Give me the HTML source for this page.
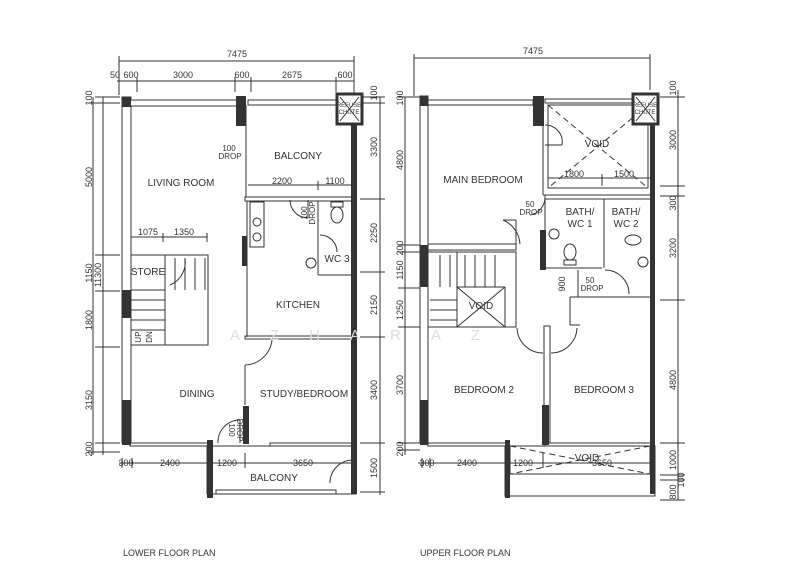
<!DOCTYPE html>
<html><head><meta charset="utf-8"><style>
html,body{margin:0;padding:0;background:#fff;width:800px;height:582px;overflow:hidden}
svg{display:block}
text{font-family:"Liberation Sans",sans-serif;fill:#333}
</style></head><body>
<svg width="800" height="582" viewBox="0 0 800 582" xmlns="http://www.w3.org/2000/svg">
<g stroke="#333" stroke-width="1" fill="none">
<line x1="119" y1="61" x2="354" y2="61"/>
<line x1="119" y1="56" x2="119" y2="95"/><line x1="354" y1="56" x2="354" y2="95"/>
<line x1="117" y1="81" x2="354" y2="81"/>
<line x1="137" y1="77" x2="137" y2="92"/><line x1="235" y1="77" x2="235" y2="92"/><line x1="251" y1="77" x2="251" y2="92"/><line x1="336" y1="77" x2="336" y2="92"/>
<line x1="93" y1="97" x2="93" y2="455"/>
<line x1="103" y1="97" x2="103" y2="455"/>
<line x1="95" y1="97" x2="120" y2="97"/><line x1="88" y1="103" x2="120" y2="103"/>
<line x1="95" y1="255" x2="120" y2="255"/><line x1="95" y1="291" x2="120" y2="291"/><line x1="95" y1="347" x2="120" y2="347"/><line x1="95" y1="443" x2="120" y2="443"/><line x1="88" y1="452" x2="120" y2="452"/>
<line x1="380" y1="97" x2="380" y2="495"/>
<line x1="360" y1="97" x2="385" y2="97"/><line x1="360" y1="103" x2="385" y2="103"/><line x1="360" y1="199" x2="385" y2="199"/><line x1="360" y1="272" x2="385" y2="272"/><line x1="360" y1="337" x2="385" y2="337"/><line x1="360" y1="443" x2="385" y2="443"/><line x1="360" y1="492" x2="385" y2="492"/>
<line x1="119" y1="463" x2="355" y2="463"/>
<line x1="122" y1="458" x2="122" y2="468"/><line x1="132" y1="458" x2="132" y2="468"/><line x1="208" y1="458" x2="208" y2="468"/><line x1="245" y1="453" x2="245" y2="468"/>
<line x1="130" y1="237" x2="207" y2="237"/><line x1="163" y1="233" x2="163" y2="242"/><line x1="207" y1="233" x2="207" y2="242"/>
<line x1="248" y1="185" x2="352" y2="185"/><line x1="318" y1="181" x2="318" y2="190"/>
<rect x="122" y="97" width="9" height="346" fill="#fff"/>
<rect x="130" y="100" width="108" height="6" fill="#fff"/>
<rect x="248" y="100" width="88" height="5" fill="#fff"/>
<rect x="130" y="443" width="80" height="3" fill="#fff"/>
<rect x="270" y="443" width="85" height="3" fill="#fff"/>
<rect x="245" y="197" width="108" height="4" fill="#fff"/>
<rect x="245" y="336" width="108" height="3" fill="#fff"/>
<line x1="246" y1="105" x2="246" y2="197"/><line x1="247" y1="201" x2="247" y2="337"/>
<line x1="245" y1="365" x2="245" y2="405"/>
<line x1="318" y1="201" x2="318" y2="275"/><line x1="318" y1="275" x2="353" y2="275"/>
<rect x="207" y="446" width="149" height="48"/>
<rect x="216" y="490" width="120" height="4"/>
<rect x="131" y="255" width="77" height="90"/>
<line x1="131" y1="290" x2="165" y2="290"/>
<line x1="165" y1="255" x2="165" y2="345"/>
<line x1="175" y1="258" x2="175" y2="290"/><line x1="185" y1="258" x2="185" y2="290"/><line x1="195" y1="258" x2="195" y2="290"/><line x1="205" y1="258" x2="205" y2="290"/>
<line x1="131" y1="300" x2="165" y2="300"/><line x1="131" y1="310" x2="165" y2="310"/><line x1="131" y1="320" x2="165" y2="320"/><line x1="131" y1="330" x2="165" y2="330"/>
<path d="M185 258 A25 25 0 0 1 170 285"/>
<path d="M245 365 A28 28 0 0 0 272 340"/>
<path d="M218 443 A22 22 0 0 1 240 420"/><line x1="240" y1="420" x2="240" y2="443"/>
<path d="M330 483 A23 23 0 0 1 353 460"/>
<path d="M290 200 A18 18 0 0 0 308 218"/><line x1="308" y1="200" x2="308" y2="218"/>
<path d="M320 235 A17 17 0 0 1 337 252"/>
<ellipse cx="337" cy="215" rx="6" ry="8"/><rect x="331" y="202" width="12" height="5"/>
<circle cx="311" cy="263" r="5"/>
<rect x="250" y="202" width="14" height="45"/><circle cx="257" cy="222" r="4"/><circle cx="257" cy="237" r="4"/>
<rect x="337" y="94" width="25" height="30" fill="#fff" stroke-width="3"/>
<line x1="340" y1="97" x2="359" y2="121"/><line x1="359" y1="97" x2="340" y2="121"/>
<line x1="414" y1="58" x2="650" y2="58"/>
<line x1="414" y1="54" x2="414" y2="96"/><line x1="650" y1="54" x2="650" y2="90"/>
<line x1="405" y1="97" x2="405" y2="455"/>
<line x1="398" y1="97" x2="420" y2="97"/><line x1="398" y1="245" x2="420" y2="245"/><line x1="398" y1="252" x2="420" y2="252"/><line x1="398" y1="288" x2="420" y2="288"/><line x1="398" y1="327" x2="420" y2="327"/><line x1="398" y1="443" x2="420" y2="443"/><line x1="398" y1="450" x2="420" y2="450"/>
<line x1="678" y1="90" x2="678" y2="500"/>
<line x1="660" y1="97" x2="685" y2="97"/><line x1="660" y1="186" x2="685" y2="186"/><line x1="660" y1="196" x2="685" y2="196"/><line x1="660" y1="300" x2="685" y2="300"/><line x1="660" y1="443" x2="685" y2="443"/><line x1="660" y1="475" x2="685" y2="475"/><line x1="660" y1="480" x2="685" y2="480"/><line x1="660" y1="500" x2="685" y2="500"/>
<line x1="418" y1="463" x2="655" y2="463"/>
<line x1="422" y1="458" x2="422" y2="468"/><line x1="430" y1="458" x2="430" y2="468"/><line x1="506" y1="458" x2="506" y2="468"/><line x1="543" y1="453" x2="543" y2="468"/>
<line x1="548" y1="178" x2="652" y2="178"/><line x1="602" y1="174" x2="602" y2="186"/>
<rect x="420" y="96" width="8" height="347" fill="#fff"/>
<rect x="428" y="100" width="105" height="5" fill="#fff"/>
<rect x="545" y="99" width="90" height="4" fill="#fff"/>
<rect x="428" y="443" width="80" height="3" fill="#fff"/>
<rect x="545" y="443" width="107" height="3" fill="#fff"/>
<rect x="428" y="244" width="88" height="6" fill="#fff"/>
<line x1="543" y1="125" x2="543" y2="195"/><line x1="543" y1="195" x2="652" y2="195"/>
<rect x="545" y="195" width="107" height="4" fill="#fff"/>
<line x1="545" y1="199" x2="545" y2="268"/><line x1="545" y1="268" x2="602" y2="268"/>
<line x1="604" y1="199" x2="604" y2="268"/>
<line x1="516" y1="220" x2="516" y2="244"/><line x1="503" y1="220" x2="516" y2="220"/>
<path d="M503 220 A28 28 0 0 1 520 244"/>
<line x1="570" y1="297" x2="652" y2="297"/><line x1="570" y1="297" x2="570" y2="325"/><line x1="570" y1="325" x2="580" y2="325"/>
<line x1="578" y1="270" x2="578" y2="297"/>
<path d="M605 270 A24 24 0 0 1 629 294"/>
<path d="M545 198 A18 18 0 0 1 530 215"/>
<path d="M545 125 A17 17 0 0 1 562 145"/><line x1="545" y1="145" x2="562" y2="145"/>
<rect x="544" y="326" width="6" height="117" fill="#fff"/>
<path d="M517 328 A26 26 0 0 0 543 353"/><path d="M577 328 A26 26 0 0 1 551 353"/>
<ellipse cx="570" cy="252" rx="6" ry="8"/><rect x="564" y="260" width="12" height="5"/>
<circle cx="554" cy="234" r="5"/>
<ellipse cx="633" cy="240" rx="8" ry="5"/><circle cx="643" cy="262" r="5"/>
<rect x="428" y="252" width="88" height="75"/>
<line x1="457" y1="287" x2="505" y2="287"/><line x1="457" y1="252" x2="457" y2="327"/><line x1="505" y1="287" x2="505" y2="327"/>
<line x1="440" y1="255" x2="440" y2="287"/><line x1="450" y1="255" x2="450" y2="287"/><line x1="465" y1="255" x2="465" y2="287"/><line x1="475" y1="255" x2="475" y2="287"/><line x1="485" y1="255" x2="485" y2="287"/><line x1="495" y1="255" x2="495" y2="287"/>
<line x1="430" y1="300" x2="457" y2="300"/><line x1="430" y1="310" x2="457" y2="310"/><line x1="430" y1="320" x2="457" y2="320"/>
<line x1="457" y1="287" x2="505" y2="327"/><line x1="505" y1="287" x2="457" y2="327"/>
<rect x="548" y="105" width="100" height="83"/>
<line x1="548" y1="105" x2="648" y2="188" stroke-dasharray="6 4"/><line x1="648" y1="105" x2="548" y2="188" stroke-dasharray="6 4"/>
<rect x="505" y="446" width="150" height="50"/>
<rect x="510" y="446" width="140" height="28"/>
<line x1="510" y1="446" x2="650" y2="474" stroke-dasharray="6 4"/><line x1="650" y1="446" x2="510" y2="474" stroke-dasharray="6 4"/>
<rect x="633" y="94" width="25" height="30" fill="#fff" stroke-width="3"/>
<line x1="636" y1="97" x2="655" y2="121"/><line x1="655" y1="97" x2="636" y2="121"/>
</g>
<g fill="#333">
<rect x="122" y="97" width="9" height="10"/><rect x="122" y="290" width="9" height="28"/><rect x="122" y="400" width="9" height="45"/>
<rect x="236" y="96" width="10" height="30"/><rect x="242" y="236" width="5" height="30"/>
<rect x="351" y="124" width="6" height="370"/>
<rect x="243" y="406" width="6" height="38"/><rect x="207" y="440" width="6" height="58"/>
<rect x="420" y="96" width="8" height="10"/><rect x="420" y="245" width="8" height="42"/><rect x="420" y="400" width="8" height="45"/>
<rect x="533" y="96" width="11" height="30"/><rect x="540" y="230" width="6" height="40"/>
<rect x="650" y="124" width="5" height="370"/>
<rect x="542" y="405" width="7" height="40"/><rect x="505" y="440" width="5" height="58"/>
</g>
<g font-size="9" text-anchor="middle">
<text x="237" y="57">7475</text>
<text x="115" y="78">50</text><text x="131" y="78">600</text><text x="183" y="78">3000</text><text x="242" y="78">600</text><text x="292" y="78">2675</text><text x="345" y="78">600</text>
<text x="148" y="235">1075</text><text x="184" y="235">1350</text>
<text x="282" y="184">2200</text><text x="335" y="184">1100</text>
<text x="126" y="466">300</text><text x="170" y="466">2400</text><text x="227" y="466">1200</text><text x="303" y="466">3650</text>
<text x="533" y="54">7475</text>
<text x="574" y="177">1800</text><text x="624" y="177">1500</text>
<text x="427" y="466">300</text><text x="467" y="466">2400</text><text x="523" y="466">1200</text><text x="602" y="466">3650</text>
</g>
<g font-size="9" text-anchor="middle">
<text transform="translate(92,177) rotate(-90)">5000</text>
<text transform="translate(92,273) rotate(-90)">1150</text>
<text transform="translate(92,320) rotate(-90)">1800</text>
<text transform="translate(92,400) rotate(-90)">3150</text>
<text transform="translate(92,449) rotate(-90)">200</text>
<text transform="translate(92,98) rotate(-90)">100</text>
<text transform="translate(101,275) rotate(-90)">11300</text>
<text transform="translate(377,147) rotate(-90)">3300</text>
<text transform="translate(377,233) rotate(-90)">2250</text>
<text transform="translate(377,305) rotate(-90)">2150</text>
<text transform="translate(377,390) rotate(-90)">3400</text>
<text transform="translate(377,468) rotate(-90)">1500</text>
<text transform="translate(377,93) rotate(-90)">100</text>
<text transform="translate(403,160) rotate(-90)">4800</text>
<text transform="translate(403,248) rotate(-90)">200</text>
<text transform="translate(403,270) rotate(-90)">1150</text>
<text transform="translate(403,310) rotate(-90)">1250</text>
<text transform="translate(403,385) rotate(-90)">3700</text>
<text transform="translate(403,449) rotate(-90)">200</text>
<text transform="translate(403,98) rotate(-90)">100</text>
<text transform="translate(676,140) rotate(-90)">3000</text>
<text transform="translate(676,203) rotate(-90)">300</text>
<text transform="translate(676,248) rotate(-90)">3200</text>
<text transform="translate(676,380) rotate(-90)">4800</text>
<text transform="translate(676,460) rotate(-90)">1000</text>
<text transform="translate(684,480) rotate(-90)">100</text>
<text transform="translate(676,492) rotate(-90)">800</text>
<text transform="translate(676,88) rotate(-90)">100</text>
<text transform="translate(565,284) rotate(-90)">900</text>
</g>
<g font-size="10" text-anchor="middle">
<text x="181" y="186">LIVING ROOM</text>
<text x="298" y="159">BALCONY</text>
<text x="148" y="275">STORE</text>
<text x="298" y="308">KITCHEN</text>
<text x="197" y="397">DINING</text>
<text x="304" y="397">STUDY/BEDROOM</text>
<text x="337" y="262">WC 3</text>
<text x="274" y="481">BALCONY</text>
<text x="483" y="183">MAIN BEDROOM</text>
<text x="597" y="147">VOID</text>
<text x="481" y="309">VOID</text>
<text x="484" y="393">BEDROOM 2</text>
<text x="604" y="393">BEDROOM 3</text>
<text x="587" y="461">VOID</text>
<text x="580" y="215">BATH/</text><text x="580" y="227">WC 1</text>
<text x="626" y="215">BATH/</text><text x="626" y="227">WC 2</text>
</g>
<g font-size="8" text-anchor="middle">
<text x="229" y="151">100</text><text x="230" y="159">DROP</text>
<text x="530" y="207">50</text><text x="531" y="215">DROP</text>
<text x="590" y="283">50</text><text x="592" y="291">DROP</text>
<text transform="translate(307,213) rotate(-90)">100</text><text transform="translate(315,213) rotate(-90)">DROP</text>
<text transform="translate(229,430) rotate(90)">100</text><text transform="translate(237,430) rotate(90)">DROP</text>
<text transform="translate(141,337) rotate(-90)">UP</text><text transform="translate(152,337) rotate(-90)">DN</text>
</g>
<g font-size="6" text-anchor="middle">
<text x="349" y="107">REFUSE</text><text x="349" y="114">CHUTE</text>
<text x="645" y="107">REFUSE</text><text x="645" y="114">CHUTE</text>
</g>
<text x="230" y="340" font-size="15" fill="#ddd" style="fill:#ddd;letter-spacing:30px">AZHARAZ</text>
<text x="123" y="556" font-size="9">LOWER FLOOR PLAN</text>
<text x="420" y="556" font-size="9">UPPER FLOOR PLAN</text>
</svg>
</body></html>
